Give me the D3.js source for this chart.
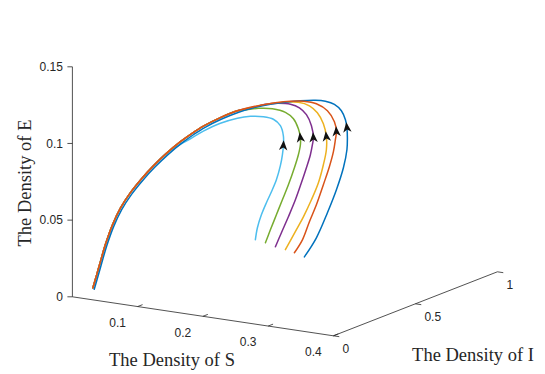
<!DOCTYPE html>
<html>
<head>
<meta charset="utf-8">
<script src="https://cdn.jsdelivr.net/npm/d3@7/dist/d3.min.js"></script>
<style>
  body { margin: 0; background: #fff; }
  svg { display: block; }
  .tick-label { font-family: 'Liberation Sans', Arial, sans-serif; font-size: 12px; fill: #262626; }
  .axis-title { font-family: 'Liberation Serif', 'Times New Roman', serif; font-size: 18.5px; fill: #262626; }
</style>
</head>
<body>
<svg id="chart" width="545" height="374"></svg>
<script>
// axis ticks
const sTicks = [0.1, 0.2, 0.3, 0.4];
const iTicks = [0, 0.5, 1];
const eTicks = [0, 0.05, 0.1, 0.15];
const eTickText = ['0', '0.05', '0.1', '0.15'];

// the trajectories sit at this I level
const sliceI = 0.1;

// shared approach to the equilibrium (S, E)
const tailS = [0.2277, 0.2017, 0.1756, 0.1588, 0.1404, 0.1189, 0.0990, 0.0806, 0.0638, 0.0484, 0.0362, 0.0254, 0.0178, 0.0124, 0.0063];
const tailE = [0.1316, 0.1255, 0.1183, 0.1127, 0.1059, 0.0969, 0.0875, 0.0778, 0.0678, 0.0567, 0.0450, 0.0315, 0.0199, 0.0114, 0.0021];
const blueTailS = [0.2297, 0.2037, 0.1776, 0.1608, 0.1424, 0.1209, 0.1010, 0.0826, 0.0658, 0.0504, 0.0382, 0.0274, 0.0198, 0.0144, 0.0083];
const blueTailE = [0.1308, 0.1247, 0.1175, 0.1119, 0.1051, 0.0961, 0.0867, 0.0770, 0.0670, 0.0559, 0.0442, 0.0307, 0.0191, 0.0106, 0.0013];

// first part of each trajectory
const blueS = [0.3304, 0.3488, 0.3657, 0.3795, 0.3902, 0.3956, 0.3963, 0.3956, 0.3933, 0.3871, 0.3764, 0.3626, 0.3473, 0.3243, 0.3013, 0.2783, 0.2523];
const blueE = [0.0429, 0.0565, 0.0739, 0.0898, 0.1048, 0.1169, 0.1248, 0.1312, 0.1363, 0.1418, 0.1453, 0.1464, 0.1461, 0.1443, 0.1419, 0.1391, 0.1352];
const orangeS = [0.3151, 0.3274, 0.3381, 0.3488, 0.3595, 0.3687, 0.3749, 0.3779, 0.3795, 0.3764, 0.3657, 0.3488, 0.3289, 0.3090, 0.2860, 0.2630];
const orangeE = [0.0446, 0.0538, 0.0663, 0.0780, 0.0918, 0.1041, 0.1143, 0.1223, 0.1276, 0.1339, 0.1404, 0.1439, 0.1443, 0.1430, 0.1406, 0.1375];
const yellowS = [0.3013, 0.3182, 0.3289, 0.3412, 0.3519, 0.3595, 0.3641, 0.3641, 0.3595, 0.3503, 0.3381, 0.3212, 0.3013, 0.2783, 0.2553];
const yellowE = [0.0457, 0.0598, 0.0689, 0.0808, 0.0926, 0.1048, 0.1149, 0.1234, 0.1315, 0.1381, 0.1419, 0.1431, 0.1419, 0.1394, 0.1360];
const purpleS = [0.2860, 0.2952, 0.3059, 0.3166, 0.3258, 0.3335, 0.3396, 0.3427, 0.3442, 0.3412, 0.3335, 0.3228, 0.3090, 0.2906, 0.2707, 0.2507];
const purpleE = [0.0466, 0.0564, 0.0675, 0.0792, 0.0909, 0.1012, 0.1101, 0.1168, 0.1214, 0.1291, 0.1358, 0.1396, 0.1411, 0.1405, 0.1386, 0.1351];
const greenS = [0.2707, 0.2783, 0.2875, 0.2967, 0.3059, 0.3151, 0.3212, 0.3243, 0.3243, 0.3212, 0.3136, 0.3013, 0.2814, 0.2599, 0.2415];
const greenE = [0.0483, 0.0572, 0.0676, 0.0780, 0.0883, 0.1000, 0.1089, 0.1156, 0.1202, 0.1259, 0.1319, 0.1353, 0.1364, 0.1353, 0.1332];
const cyanS = [0.2553, 0.2584, 0.2645, 0.2722, 0.2799, 0.2875, 0.2936, 0.2967, 0.2982, 0.2982, 0.2936, 0.2829, 0.2676, 0.2477, 0.2277, 0.2017, 0.1756, 0.1557, 0.1404];
const cyanE = [0.0493, 0.0573, 0.0661, 0.0745, 0.0821, 0.0904, 0.1000, 0.1073, 0.1133, 0.1198, 0.1261, 0.1296, 0.1303, 0.1293, 0.1268, 0.1218, 0.1150, 0.1088, 0.1042];

// drawn in this order (last on top)
const series = [
  { color: '#4DBEEE', s: cyanS.concat(tailS.slice(5)), e: cyanE.concat(tailE.slice(5)), arrow: 8 },
  { color: '#77AC30', s: greenS.concat(tailS), e: greenE.concat(tailE), arrow: 8 },
  { color: '#7E2F8E', s: purpleS.concat(tailS), e: purpleE.concat(tailE), arrow: 8 },
  { color: '#EDB120', s: yellowS.concat(tailS), e: yellowE.concat(tailE), arrow: 7 },
  { color: '#0072BD', s: blueS.concat(blueTailS), e: blueE.concat(blueTailE), arrow: 7 },
  { color: '#D95319', s: orangeS.concat(tailS), e: orangeE.concat(tailE), arrow: 8 }
];

const svg = d3.select('#chart');

// oblique view of the box
const origin = [72.4, 296.8];
const sx = d3.scaleLinear().domain([0, 0.4]).range([0, 261]);
const sy = d3.scaleLinear().domain([0, 0.4]).range([0, 39]);
const ix = d3.scaleLinear().domain([0, 1]).range([0, 164]);
const iy = d3.scaleLinear().domain([0, 1]).range([0, -64]);
const ey = d3.scaleLinear().domain([0, 0.15]).range([0, -230]);
const proj = (s, i, e) => [origin[0] + sx(s) + ix(i), origin[1] + sy(s) + iy(i) + ey(e)];

const axisColor = '#262626';
const seg = (a, b) => svg.append('line')
  .attr('x1', a[0]).attr('y1', a[1]).attr('x2', b[0]).attr('y2', b[1])
  .attr('stroke', axisColor).attr('stroke-width', 0.8);

// axis lines
seg(proj(0, 0, 0), proj(0, 0, 0.15));
seg(proj(0, 0, 0), proj(0.4, 0, 0));
seg(proj(0.4, 0, 0), proj(0.4, 1, 0));

// E ticks
eTicks.forEach((t, k) => {
  const p = proj(0, 0, t);
  seg(p, [p[0] - 5, p[1]]);
  svg.append('text').attr('class', 'tick-label')
    .attr('x', p[0] - 9.5).attr('y', p[1]).attr('dy', '0.35em')
    .attr('text-anchor', 'end').text(eTickText[k]);
});

// S ticks
sTicks.forEach(t => {
  const p = proj(t, 0, 0);
  seg(p, proj(t, 0.03, 0));
  svg.append('text').attr('class', 'tick-label')
    .attr('x', p[0] - 20).attr('y', p[1] + 16).attr('dy', '0.35em')
    .attr('text-anchor', 'middle').text(t);
});

// I ticks
iTicks.forEach(t => {
  const p = proj(0.4, t, 0);
  seg(p, proj(0.409, t, 0));
  svg.append('text').attr('class', 'tick-label')
    .attr('x', p[0] + 9).attr('y', p[1] + 13).attr('dy', '0.35em')
    .attr('text-anchor', 'start').text(t);
});

// axis titles
svg.append('text').attr('class', 'axis-title')
  .attr('transform', 'translate(31,183) rotate(-90)')
  .attr('text-anchor', 'middle').text('The Density of E');
svg.append('text').attr('class', 'axis-title')
  .attr('x', 172).attr('y', 366).attr('text-anchor', 'middle').text('The Density of S');
svg.append('text').attr('class', 'axis-title')
  .attr('x', 473).attr('y', 361).attr('text-anchor', 'middle').text('The Density of I');

// trajectories
const line = d3.line().curve(d3.curveCatmullRom.alpha(0.5));
series.forEach(d => {
  const pts = d.s.map((s, k) => proj(s, sliceI, d.e[k]));
  d.pts = pts;
  svg.append('path')
    .attr('d', line(pts))
    .attr('fill', 'none')
    .attr('stroke', d.color)
    .attr('stroke-width', 1.5)
    .attr('stroke-linejoin', 'round')
    .attr('stroke-linecap', 'round');
});

// direction arrows
series.forEach(d => {
  const a = d.pts[d.arrow - 1], b = d.pts[d.arrow + 1], c = d.pts[d.arrow];
  const ang = Math.atan2(b[1] - a[1], b[0] - a[0]) * 180 / Math.PI;
  svg.append('path')
    .attr('d', 'M5.5,0 L-4.5,-4.2 L-1.8,0 L-4.5,4.2 Z')
    .attr('transform', `translate(${c[0]},${c[1]}) rotate(${ang})`)
    .attr('fill', '#111');
});
</script>
</body>
</html>
